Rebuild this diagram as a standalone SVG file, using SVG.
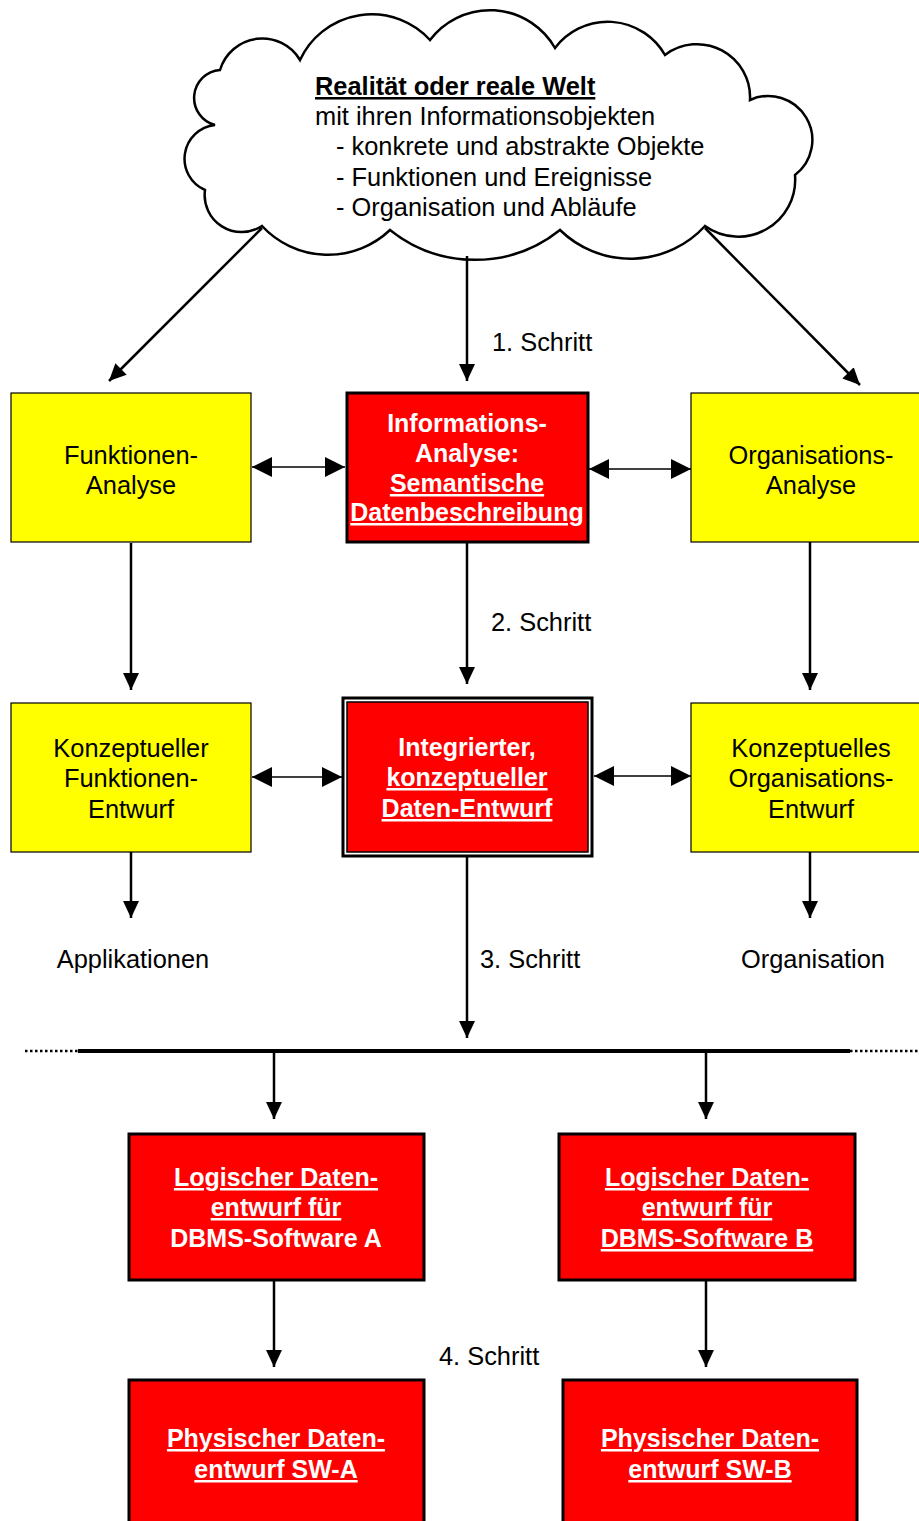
<svg xmlns="http://www.w3.org/2000/svg" width="919" height="1521" viewBox="0 0 919 1521">
  <style>
    text { font-family: "Liberation Sans", Arial, sans-serif; font-size: 25.4px; fill: #000; }
    .c { text-anchor: middle; }
    .w { fill: #fff; font-weight: bold; font-size: 25px; }
    .b { font-weight: bold; }
    .u { text-decoration: underline; }
    .yel { fill: #ffff00; stroke: #000; stroke-width: 1.2; }
    .red { fill: #ff0000; stroke: #000; stroke-width: 3; }
    .ln { fill: none; stroke: #000; stroke-width: 2.5; }
    .thin { fill: none; stroke: #000; stroke-width: 1.3; }
  </style>
  <defs>
    <marker id="ah" markerUnits="userSpaceOnUse" markerWidth="18" markerHeight="16" refX="17" refY="8" orient="auto">
      <path d="M0,0 L17,8 L0,16 z" fill="#000"/>
    </marker>
    <marker id="dh" markerUnits="userSpaceOnUse" markerWidth="21" markerHeight="21" refX="20" refY="10" orient="auto-start-reverse">
      <path d="M0,0 L20,10 L0,20 z" fill="#000"/>
    </marker>
  </defs>
  <rect width="919" height="1521" fill="#fff"/>

  <!-- Real world cloud -->
  <g id="cloud">
    <path d="M215,125 A28 28 0 0 1 220,70 A44 44 0 0 1 300,60 A79 79 0 0 1 430,40 A75 75 0 0 1 555,48 A66 66 0 0 1 665,55 A53 53 0 0 1 750,100 A44 44 0 0 1 795,175 A57 57 0 0 1 705,226 A101 101 0 0 1 560,230 A136 136 0 0 1 390,230 A90 90 0 0 1 262,226 A37 37 0 0 1 205,190 A34 34 0 0 1 215,125 Z" fill="#fff" stroke="#000" stroke-width="2.5"/>
    <text x="315" y="95" class="b u">Realität oder reale Welt</text>
    <text x="315" y="125">mit ihren Informationsobjekten</text>
    <text x="336" y="155">- konkrete und abstrakte Objekte</text>
    <text x="336" y="186">- Funktionen und Ereignisse</text>
    <text x="336" y="216">- Organisation und Abläufe</text>
  </g>

  <!-- Connectors -->
  <g id="connectors">
    <path class="ln" d="M262,228 L109,381" marker-end="url(#ah)"/>
    <path class="ln" d="M467,256 L467,381" marker-end="url(#ah)"/>
    <path class="ln" d="M705,228 L860,385" marker-end="url(#ah)"/>
    <path class="thin" d="M252,467 L345,467" marker-start="url(#dh)" marker-end="url(#dh)"/>
    <path class="thin" d="M589,469 L691,469" marker-start="url(#dh)" marker-end="url(#dh)"/>
    <path class="thin" d="M252,777 L342,777" marker-start="url(#dh)" marker-end="url(#dh)"/>
    <path class="thin" d="M594,776 L691,776" marker-start="url(#dh)" marker-end="url(#dh)"/>
    <path class="ln" d="M131,543 L131,690" marker-end="url(#ah)"/>
    <path class="ln" d="M467,543 L467,684" marker-end="url(#ah)"/>
    <path class="ln" d="M810,542 L810,690" marker-end="url(#ah)"/>
    <path class="ln" d="M131,852 L131,918" marker-end="url(#ah)"/>
    <path class="ln" d="M810,852 L810,918" marker-end="url(#ah)"/>
    <path class="ln" d="M467,857 L467,1038" marker-end="url(#ah)"/>
    <path d="M78,1051 L850,1051" stroke="#000" stroke-width="4"/>
    <path d="M25,1051 L78,1051 M850,1051 L919,1051" stroke="#000" stroke-width="2.5" stroke-dasharray="2.5,2.5"/>
    <path class="ln" d="M274,1051 L274,1119" marker-end="url(#ah)"/>
    <path class="ln" d="M706,1051 L706,1119" marker-end="url(#ah)"/>
    <path class="ln" d="M274,1281 L274,1367" marker-end="url(#ah)"/>
    <path class="ln" d="M706,1281 L706,1367" marker-end="url(#ah)"/>
  </g>

  <!-- Step labels and outputs -->
  <g id="labels">
    <text x="492" y="351">1. Schritt</text>
    <text x="491" y="631">2. Schritt</text>
    <text x="480" y="968">3. Schritt</text>
    <text x="439" y="1365">4. Schritt</text>
    <text x="133" y="968" class="c">Applikationen</text>
    <text x="813" y="968" class="c">Organisation</text>
  </g>

  <g id="funktionen-analyse">
    <rect class="yel" x="11" y="393" width="240" height="149"/>
    <text x="131" y="464" class="c">Funktionen-</text>
    <text x="131" y="494" class="c">Analyse</text>
  </g>

  <g id="informations-analyse">
    <rect class="red" x="347" y="393" width="241" height="149"/>
    <text x="467" y="432" class="c w">Informations-</text>
    <text x="467" y="462" class="c w">Analyse:</text>
    <text x="467" y="492" class="c w u">Semantische</text>
    <text x="467" y="521" class="c w u">Datenbeschreibung</text>
  </g>

  <g id="organisations-analyse">
    <rect class="yel" x="691" y="393" width="240" height="149"/>
    <text x="811" y="464" class="c">Organisations-</text>
    <text x="811" y="494" class="c">Analyse</text>
  </g>

  <g id="funktionen-entwurf">
    <rect class="yel" x="11" y="703" width="240" height="149"/>
    <text x="131" y="757" class="c">Konzeptueller</text>
    <text x="131" y="787" class="c">Funktionen-</text>
    <text x="131" y="818" class="c">Entwurf</text>
  </g>

  <g id="daten-entwurf">
    <rect x="343" y="698" width="249" height="158" fill="#fff" stroke="#000" stroke-width="3"/>
    <rect x="347" y="702" width="241" height="150" fill="#ff0000" stroke="#000" stroke-width="1.5"/>
    <text x="467" y="756" class="c w">Integrierter,</text>
    <text x="467" y="786" class="c w u">konzeptueller</text>
    <text x="467" y="817" class="c w u">Daten-Entwurf</text>
  </g>

  <g id="organisations-entwurf">
    <rect class="yel" x="691" y="703" width="240" height="149"/>
    <text x="811" y="757" class="c">Konzeptuelles</text>
    <text x="811" y="787" class="c">Organisations-</text>
    <text x="811" y="818" class="c">Entwurf</text>
  </g>

  <g id="logisch-a">
    <rect class="red" x="129" y="1134" width="295" height="146"/>
    <text x="276" y="1186" class="c w u">Logischer Daten-</text>
    <text x="276" y="1216" class="c w u">entwurf für</text>
    <text x="276" y="1247" class="c w">DBMS-Software A</text>
  </g>

  <g id="logisch-b">
    <rect class="red" x="559" y="1134" width="296" height="146"/>
    <text x="707" y="1186" class="c w u">Logischer Daten-</text>
    <text x="707" y="1216" class="c w u">entwurf für</text>
    <text x="707" y="1247" class="c w u">DBMS-Software B</text>
  </g>

  <g id="physisch-a">
    <rect class="red" x="129" y="1380" width="295" height="160"/>
    <text x="276" y="1447" class="c w u">Physischer Daten-</text>
    <text x="276" y="1478" class="c w u">entwurf SW-A</text>
  </g>

  <g id="physisch-b">
    <rect class="red" x="563" y="1380" width="294" height="160"/>
    <text x="710" y="1447" class="c w u">Physischer Daten-</text>
    <text x="710" y="1478" class="c w u">entwurf SW-B</text>
  </g>
</svg>
